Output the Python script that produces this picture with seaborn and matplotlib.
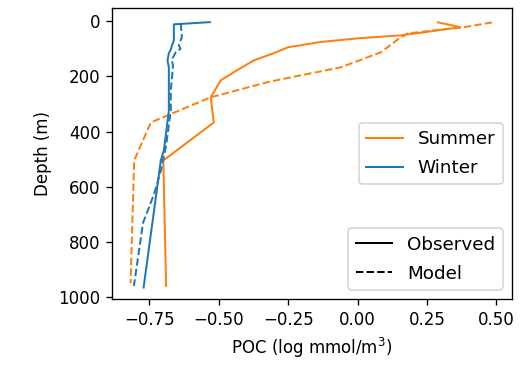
import numpy as np
import pandas as pd
import seaborn as sns
import matplotlib.pyplot as plt
from matplotlib.lines import Line2D

# summer, observed
summer_obs_depth = [4, 21, 40, 51, 62, 75, 87, 94, 115, 142, 175, 214, 276, 367, 505, 960]
summer_obs_poc = [0.29, 0.37, 0.24, 0.155, 0.0, -0.133, -0.205, -0.25, -0.30, -0.374, -0.43, -0.493, -0.529, -0.518, -0.70, -0.69]
# summer, model
summer_mod_depth = [4, 22, 44, 51, 58, 112, 167, 196, 221, 276, 367, 505, 950]
summer_mod_poc = [0.485, 0.38, 0.18, 0.17, 0.155, 0.085, -0.06, -0.205, -0.325, -0.53, -0.745, -0.805, -0.818]
# winter, observed
winter_obs_depth = [3, 11, 40, 70, 85, 100, 116, 142, 167, 250, 324, 469, 505, 966]
winter_obs_poc = [-0.532, -0.662, -0.662, -0.662, -0.668, -0.672, -0.68, -0.685, -0.68, -0.68, -0.68, -0.698, -0.709, -0.771]
# winter, model
winter_mod_depth = [8, 58, 75, 87, 100, 112, 140, 160, 250, 324, 450, 542, 626, 731, 960]
winter_mod_poc = [-0.637, -0.633, -0.64, -0.644, -0.638, -0.655, -0.67, -0.665, -0.673, -0.673, -0.69, -0.709, -0.733, -0.773, -0.806]

colors = {"Summer": "#ff7f0e", "Winter": "#1f77b4"}

fig = plt.figure(figsize=(532 / 120, 367 / 120), dpi=120)
ax = fig.add_subplot(111)
fig.subplots_adjust(left=0.2105, right=0.962, top=0.978, bottom=0.185)

series = [
    ("Summer", "-", summer_obs_poc, summer_obs_depth),
    ("Summer", "--", summer_mod_poc, summer_mod_depth),
    ("Winter", "-", winter_obs_poc, winter_obs_depth),
    ("Winter", "--", winter_mod_poc, winter_mod_depth),
]
for season, ls, poc, depth in series:
    df = pd.DataFrame({"poc": poc, "depth": depth})
    sns.lineplot(data=df, x="poc", y="depth", sort=False, estimator=None,
                 color=colors[season], linestyle=ls, linewidth=1.2, ax=ax)

ax.set_xlim(-0.885, 0.556)
ax.set_ylim(1008, -48)
ax.set_xlabel("POC (log mmol/m$^3$)")
ax.set_ylabel("Depth (m)")

h1 = [Line2D([], [], color=colors["Summer"], lw=1.2),
      Line2D([], [], color=colors["Winter"], lw=1.2)]
leg1 = ax.legend(h1, ["Summer", "Winter"], loc="center right",
                 fontsize=11, labelspacing=0.6)
ax.add_artist(leg1)
h2 = [Line2D([], [], color="black", lw=1.2, linestyle="-"),
      Line2D([], [], color="black", lw=1.2, linestyle="--")]
ax.legend(h2, ["Observed", "Model"], loc="lower right",
          fontsize=11, labelspacing=0.6)

fig.savefig("out.png", dpi=120)
